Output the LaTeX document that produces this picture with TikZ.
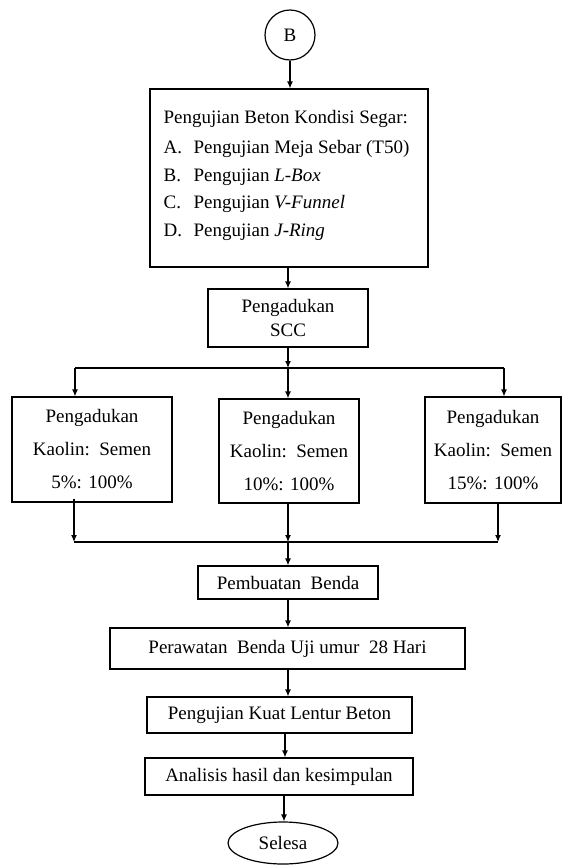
\documentclass[tikz,border=0pt]{standalone}
\usepackage{fontspec}
\setmainfont{Liberation Serif}
\usetikzlibrary{arrows.meta,shapes.geometric}
\begin{document}
\begin{tikzpicture}[x=1pt,y=-1pt,
  line width=1.2pt,
  font=\fontsize{19}{24}\selectfont,
  arr/.style={-{Latex[length=7pt,width=6pt]}},
  box/.style={draw,inner sep=0pt,align=center},
  txt/.style={anchor=base west,inner sep=0pt}]
\useasboundingbox (0,0) rectangle (566,865);
% start
\node[draw,circle,minimum size=50pt,inner sep=0pt] (B) at (290,35) {B};
% big box
\node[box,minimum width=278pt,minimum height=178pt] (big) at (289,178) {};
\node[txt] (t0) at (163,123) {Pengujian Beton Kondisi Segar:};
\node[txt] (la) at (163,153) {A.};
\node[txt] (ia) at (193,153) {Pengujian Meja Sebar (T50)};
\node[txt] (lb) at (163,181) {B.};
\node[txt] (ib) at (193,181) {Pengujian \textit{L-Box}};
\node[txt] (lc) at (163,208) {C.};
\node[txt] (ic) at (193,208) {Pengujian \textit{V-Funnel}};
\node[txt] (ld) at (163,236) {D.};
\node[txt] (id) at (193,236) {Pengujian \textit{J-Ring}};
% SCC
\node[box,minimum width=160pt,minimum height=58pt] (scc) at (288,318) {Pengadukan\\SCC};
% three mixes
\node[box,minimum width=160pt,minimum height=105pt,font=\fontsize{19}{33}\selectfont] (m1) at (92,449.5) {Pengadukan\\Kaolin:\ \ Semen\\5\%: 100\%};
\node[box,minimum width=140pt,minimum height=104pt,font=\fontsize{19}{33}\selectfont] (m2) at (289,451) {Pengadukan\\Kaolin:\ \ Semen\\10\%: 100\%};
\node[box,minimum width=136pt,minimum height=106pt,font=\fontsize{19}{33}\selectfont] (m3) at (493,450) {Pengadukan\\Kaolin:\ \ Semen\\15\%: 100\%};
% lower chain
\node[box,minimum width=180pt,minimum height=33pt] (pb) at (288,582.5) {Pembuatan\ \ Benda};
\node[box,minimum width=355pt,minimum height=41pt] (pr) at (287.5,648.5) {Perawatan\ \ Benda Uji umur\ \ 28 Hari};
\node[box,minimum width=265pt,minimum height=36pt] (ku) at (279.5,715) {Pengujian Kuat Lentur Beton};
\node[box,minimum width=268pt,minimum height=37pt] (an) at (279,776.5) {Analisis hasil\ dan kesimpulan};
\node[draw,ellipse,minimum width=110pt,minimum height=42pt,inner sep=0pt] (se) at (283,843) {Selesa};
% helper coordinates
\coordinate (s1) at (288,368);
\coordinate (s1l) at (75,368);
\coordinate (s1r) at (504,368);
\coordinate (j1) at (288,542);
\coordinate (j1l) at (74,542);
\coordinate (j1r) at (498,542);
\coordinate (xa) at (288,0);
\coordinate (xb) at (285,0);
\coordinate (xc) at (284,0);
% connectors
\draw[arr] (B.south) -- (B.south |- big.north);
\draw[arr] (big.south -| scc.north) -- (scc.north);
\draw[arr] (scc.south) -- (s1);
\draw (s1l) -- (s1r);
\draw[arr] (s1l) -- (s1l |- m1.north);
\draw[arr] (s1) -- (s1 |- m2.north);
\draw[arr] (s1r) -- (s1r |- m3.north);
\draw[arr] ([yshift=4pt]m1.south -| j1l) -- (j1l);
\draw[arr] (m2.south -| j1) -- (j1);
\draw[arr] (m3.south -| j1r) -- (j1r);
\draw (j1l) -- (j1r);
\draw[arr] (j1) -- (j1 |- pb.north);
\draw[arr] (pb.south -| xa) -- (xa |- pr.north);
\draw[arr] (pr.south -| xa) -- (xa |- ku.north);
\draw[arr] (ku.south -| xb) -- (xb |- an.north);
\draw[arr] (an.south -| xc) -- (xc |- se.north);
\end{tikzpicture}
\end{document}
